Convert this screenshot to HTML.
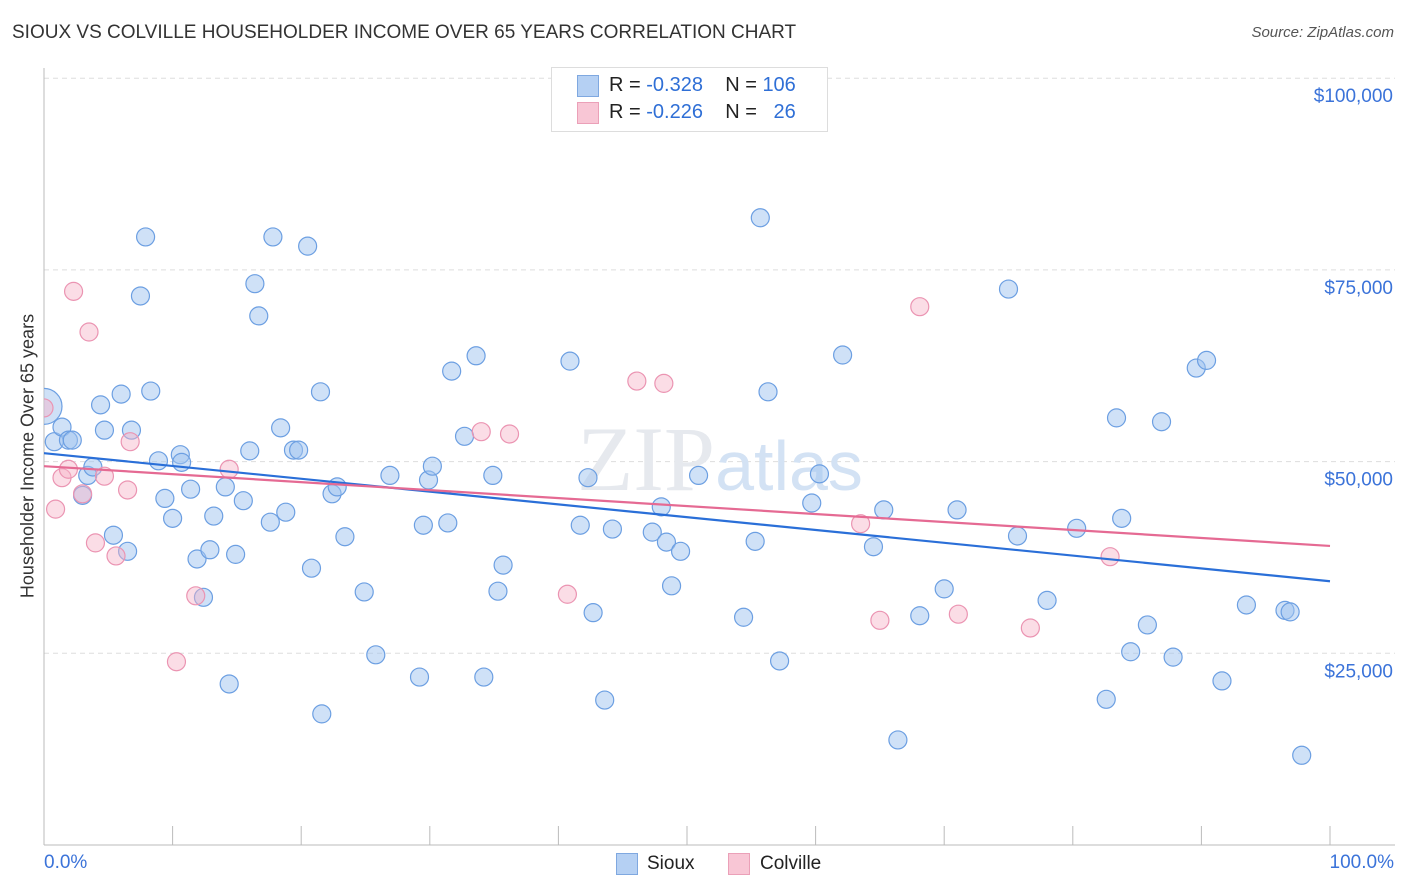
<!DOCTYPE html>
<html><head><meta charset="utf-8"><style>
body{margin:0;background:#fff;font-family:"Liberation Sans",sans-serif}
#wrap{position:relative;width:1406px;height:892px;overflow:hidden}
.t{position:absolute;white-space:nowrap}
</style></head><body>
<div id="wrap">
<div class="t" style="left:12px;top:22px;font-size:19px;color:#333">SIOUX VS COLVILLE HOUSEHOLDER INCOME OVER 65 YEARS CORRELATION CHART</div>
<div class="t" style="right:12px;top:24px;font-size:15px;color:#555;font-style:italic">Source: ZipAtlas.com</div>
<div class="t" style="left:28px;top:456px;font-size:18px;color:#333;transform:translate(-50%,-50%) rotate(-90deg)">Householder Income Over 65 years</div>
<svg id="svg" width="1406" height="892" style="position:absolute;left:0;top:0"><defs><clipPath id="pc"><rect x="44" y="60" width="1360" height="785"/></clipPath></defs><g id="marks" clip-path="url(#pc)"></g></svg>
<div style="position:absolute;left:551px;top:67px;width:275px;height:63px;border:1px solid #ddd;background:#fff"></div>
<div style="position:absolute;left:577px;top:75px;width:20px;height:20px;background:#b5d0f3;border:1px solid #7fa8e0"></div>
<div style="position:absolute;left:577px;top:102px;width:20px;height:20px;background:#f8c6d5;border:1px solid #eba0b8"></div>
<div class="t" style="left:609px;top:74px;font-size:20px;color:#222">R = <span style="color:#2f6fd6">-0.328</span>&nbsp;&nbsp;&nbsp; N = <span style="color:#2f6fd6">106</span></div>
<div class="t" style="left:609px;top:101px;font-size:20px;color:#222">R = <span style="color:#2f6fd6">-0.226</span>&nbsp;&nbsp;&nbsp; N = &nbsp;&nbsp;<span style="color:#2f6fd6">26</span></div>
<div class="t" style="left:44px;top:852px;font-size:19px;color:#3b73d9">0.0%</div>
<div class="t" style="right:12px;top:852px;font-size:19px;color:#3b73d9">100.0%</div>
<div style="position:absolute;left:616px;top:853px;width:20px;height:20px;background:#b5d0f3;border:1px solid #7fa8e0"></div>
<div class="t" style="left:647px;top:853px;font-size:19px;color:#222">Sioux</div>
<div style="position:absolute;left:728px;top:853px;width:20px;height:20px;background:#f8c6d5;border:1px solid #eba0b8"></div>
<div class="t" style="left:760px;top:853px;font-size:19px;color:#222">Colville</div>
</div>
<script>
const yTicks=[25000,50000,75000,100000];
const yTickLabels=["$25,000","$50,000","$75,000","$100,000"];
const siouxX=[0.8,1.4,1.9,2.2,3.0,3.4,3.8,4.4,4.7,5.4,6.0,6.5,6.8,7.5,7.9,8.3,8.9,9.4,10.0,10.6,10.7,11.4,11.9,12.4,12.9,13.2,14.1,14.4,14.9,15.5,16.0,16.4,16.7,17.6,17.8,18.4,18.8,19.4,19.8,20.5,20.8,21.5,21.6,22.4,22.8,23.4,24.9,25.8,26.9,29.2,29.5,29.9,30.2,31.4,31.7,32.7,33.6,34.2,34.9,35.3,35.7,40.9,41.7,42.3,42.7,43.6,44.2,47.3,48.0,48.4,48.8,49.5,50.9,54.4,55.3,55.7,56.3,57.2,59.7,60.3,62.1,64.5,65.3,66.4,68.1,70.0,71.0,75.0,75.7,78.0,80.3,82.6,83.4,83.8,84.5,85.8,86.9,87.8,89.6,90.4,91.6,93.5,96.5,96.9,97.8];
const siouxY=[52600,54500,52800,52800,45600,48200,49300,57400,54100,40400,58800,38300,54100,71600,79300,59200,50100,45200,42600,50900,49900,46400,37300,32300,38500,42900,46700,21000,37900,44900,51400,73200,69000,42100,79300,54400,43400,51500,51500,78100,36100,59100,17100,45800,46700,40200,33000,24800,48200,21900,41700,47600,49400,42000,61800,53300,63800,21900,48200,33100,36500,63100,41700,47900,30300,18900,41200,40800,44100,39500,33800,38300,48200,29700,39600,81800,59100,24000,44600,48400,63900,38900,43700,13700,29900,33400,43700,72500,40300,31900,41300,19000,55700,42600,25200,28700,55200,24500,62200,63200,21400,31300,30600,30400,11700];
const siouxBigX=[0];
const siouxBigY=[57200];
const colvilleX=[0,0.9,1.4,1.9,2.3,3.0,3.5,4.0,4.7,5.6,6.5,6.7,10.3,11.8,14.4,34.0,36.2,40.7,46.1,48.2,63.5,65.0,68.1,71.1,76.7,82.9];
const colvilleY=[57000,43800,47900,49000,72200,45800,66900,39400,48100,37700,46300,52600,23900,32500,49000,53900,53600,32700,60500,60200,41900,29300,70200,30100,28300,37600];
const siouxTrend=[51100,34400];
const colvilleTrend=[49400,39000];
const xS=v=>44+v/100*1286;
const yS=v=>845-v/25000*191.7;
const svg=document.getElementById('svg');
const marks=document.getElementById('marks');
const NS='http://www.w3.org/2000/svg';
function mk(tag,attrs,parent){const e=document.createElementNS(NS,tag);for(const k in attrs)e.setAttribute(k,attrs[k]);(parent||svg).insertBefore(e,parent?null:marks);return e;}
yTicks.forEach((t,i)=>{
 const g=mk('line',{x1:44,x2:1395,y1:yS(t),y2:yS(t),stroke:'#ddd','stroke-dasharray':'5,4'});
 
 
 const tx=mk('text',{x:1393,y:yS(t)+24,'text-anchor':'end','font-size':19,fill:'#3b73d9','font-family':'Liberation Sans, sans-serif'});
 tx.textContent=yTickLabels[i];
 
 
});
const wm=mk('text',{x:720,y:490,'text-anchor':'middle','font-size':92,fill:'#e6e9ee','font-family':'Liberation Serif, serif'});
wm.innerHTML='ZIP<tspan font-family="Liberation Sans, sans-serif" font-size="70" fill="#d3e2f4">atlas</tspan>';


const ya=mk('line',{x1:44,x2:44,y1:68,y2:845,stroke:'#bbb'});


const xa=mk('line',{x1:44,x2:1395,y1:845,y2:845,stroke:'#bbb'});


for(let i=0;i<=10;i++){
 const tk=mk('line',{x1:xS(i*10),x2:xS(i*10),y1:826,y2:845,stroke:'#bbb'});
 
 
}
function dots(xs,ys,fill,stroke,name,r){
 xs.forEach((x,i)=>{
  const c=mk('circle',{cx:xS(x),cy:yS(ys[i]),r:r,fill:fill,stroke:stroke,'stroke-width':1.2},marks);
  
  
 });
}
dots(siouxX,siouxY,'rgba(160,196,240,0.5)','#6c9fe2','sioux-point',9);
dots(siouxBigX,siouxBigY,'rgba(160,196,240,0.5)','#6c9fe2','sioux-point-large',18);
dots(colvilleX,colvilleY,'rgba(246,180,200,0.45)','#eb94b2','colville-point',9);
const tl1=mk('line',{x1:xS(0),x2:xS(100),y1:yS(siouxTrend[0]),y2:yS(siouxTrend[1]),stroke:'#2a6fd8','stroke-width':2.2},marks);


const tl2=mk('line',{x1:xS(0),x2:xS(100),y1:yS(colvilleTrend[0]),y2:yS(colvilleTrend[1]),stroke:'#e56a93','stroke-width':2.2},marks);


</script>
</body></html>
